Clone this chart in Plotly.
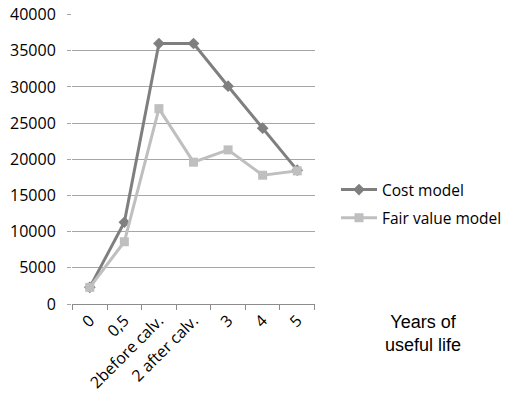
import plotly.graph_objects as go

categories = ["0", "0,5", "2before calv.", "2 after calv.", "3", "4", "5"]
cost_model = [2300, 11300, 36000, 36000, 30100, 24300, 18500]
fair_value_model = [2300, 8600, 27000, 19600, 21300, 17800, 18400]
y_ticks = [0, 5000, 10000, 15000, 20000, 25000, 30000, 35000, 40000]
y_tick_text = [str(v) for v in y_ticks]

W, H = 508, 397
L, T = 72, 14
PW, PH = 243, 290

fig = go.Figure()
fig.add_trace(go.Scatter(
    x=categories, y=cost_model, name="Cost model", mode="lines+markers",
    legendgroup="a",
    line=dict(color="#7f7f7f", width=3),
    marker=dict(symbol="diamond", size=9, color="#7f7f7f"),
))
fig.add_trace(go.Scatter(
    x=categories, y=fair_value_model, name="Fair value model", mode="lines+markers",
    legendgroup="b",
    line=dict(color="#bfbfbf", width=3),
    marker=dict(symbol="square", size=9, color="#bfbfbf"),
))

fig.update_layout(
    width=W, height=H,
    margin=dict(l=L, r=W - L - PW, t=T, b=H - T - PH, autoexpand=False),
    paper_bgcolor="white", plot_bgcolor="white",
    font=dict(family="Open Sans, sans-serif", color="#000000"),
    legend=dict(x=(336 - L) / PW, y=1 - (173 - T) / PH, xanchor="left", yanchor="top",
                font=dict(size=15.5), traceorder="grouped", tracegroupgap=5, itemwidth=36),
    annotations=[dict(text="Years of<br>useful life", xref="paper", yref="paper",
                      x=(423 - L) / PW, y=-(333 - T - PH) / PH,
                      xanchor="center", yanchor="middle", showarrow=False,
                      font=dict(size=18, family="Liberation Sans, Arial, sans-serif"))],
)
fig.update_xaxes(type="category", showgrid=False, showline=True, linecolor="#8c8c8c", linewidth=1,
                 ticks="outside", tickson="boundaries", ticklen=5, tickcolor="#8c8c8c",
                 tickangle=-45, tickfont=dict(size=16), automargin=False)
fig.update_yaxes(range=[0, 40080], tickvals=y_ticks, ticktext=y_tick_text,
                 showgrid=True, gridcolor="#a6a6a6", gridwidth=1,
                 showline=False, zeroline=False, ticks="outside", ticklen=4, tickcolor="#a6a6a6",
                 tickfont=dict(size=16), ticklabelstandoff=8, automargin=False)

fig.write_html("out.html", config={"displayModeBar": False},
               post_script="document.body.style.margin='0';")
